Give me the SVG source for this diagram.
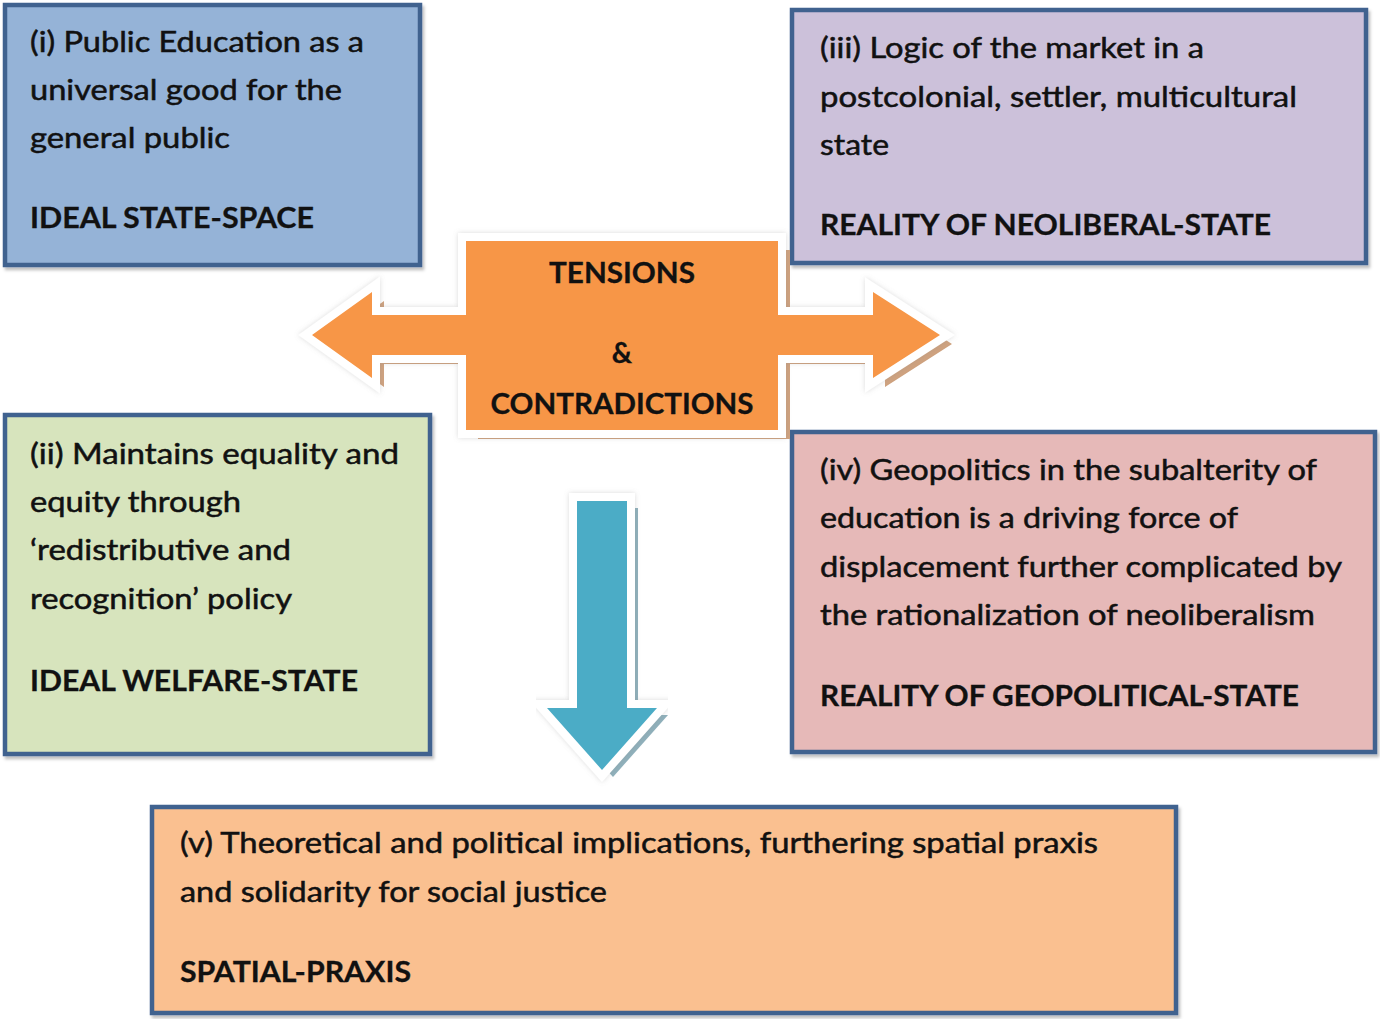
<svg xmlns="http://www.w3.org/2000/svg" width="1380" height="1019" viewBox="0 0 1380 1019">
<defs>
<style>
.box{stroke:#41628f;stroke-width:4.5}
.t{font-family:Lato,"Noto Sans","DejaVu Sans",sans-serif;font-size:28px;fill:#111;stroke:#111;stroke-width:0.5}
.b{font-weight:700;stroke-width:0.3}
</style>
<filter id="bsh" x="-5%" y="-5%" width="110%" height="110%">
<feDropShadow dx="2" dy="3" stdDeviation="1.5" flood-color="#000" flood-opacity="0.25"/>
</filter>
<filter id="glow" x="-10%" y="-10%" width="120%" height="120%">
<feDropShadow dx="0" dy="0" stdDeviation="2.5" flood-color="#888" flood-opacity="0.3"/>
</filter>
</defs>
<rect width="1380" height="1019" fill="#fff"/>

<g id="node-i">
<rect class="box" x="5" y="5" width="415" height="260" fill="#95b3d7" filter="url(#bsh)"/>
<text class="t" x="30" y="52" textLength="334" lengthAdjust="spacingAndGlyphs">(i) Public Education as a</text>
<text class="t" x="30" y="100" textLength="312" lengthAdjust="spacingAndGlyphs">universal good for the</text>
<text class="t" x="30" y="148" textLength="200" lengthAdjust="spacingAndGlyphs">general public</text>
<text class="t b" x="30" y="228" textLength="284" lengthAdjust="spacingAndGlyphs">IDEAL STATE-SPACE</text>
</g>

<g id="node-iii">
<rect class="box" x="792" y="10" width="574" height="253" fill="#ccc1da" filter="url(#bsh)"/>
<text class="t" x="820" y="58" textLength="384" lengthAdjust="spacingAndGlyphs">(iii) Logic of the market in a</text>
<text class="t" x="820" y="107" textLength="477" lengthAdjust="spacingAndGlyphs">postcolonial, settler, multicultural</text>
<text class="t" x="820" y="155" textLength="69" lengthAdjust="spacingAndGlyphs">state</text>
<text class="t b" x="820" y="235" textLength="451" lengthAdjust="spacingAndGlyphs">REALITY OF NEOLIBERAL-STATE</text>
</g>

<g id="node-ii">
<rect class="box" x="5" y="415" width="425" height="339" fill="#d7e4bd" filter="url(#bsh)"/>
<text class="t" x="30" y="464" textLength="369" lengthAdjust="spacingAndGlyphs">(ii) Maintains equality and</text>
<text class="t" x="30" y="512" textLength="211" lengthAdjust="spacingAndGlyphs">equity through</text>
<text class="t" x="30" y="560" textLength="261" lengthAdjust="spacingAndGlyphs">‘redistributive and</text>
<text class="t" x="30" y="609" textLength="262" lengthAdjust="spacingAndGlyphs">recognition’ policy</text>
<text class="t b" x="30" y="691" textLength="328" lengthAdjust="spacingAndGlyphs">IDEAL WELFARE-STATE</text>
</g>

<g id="node-iv">
<rect class="box" x="792" y="432" width="583" height="320" fill="#e6b9b8" filter="url(#bsh)"/>
<text class="t" x="820" y="480" textLength="497" lengthAdjust="spacingAndGlyphs">(iv) Geopolitics in the subalterity of</text>
<text class="t" x="820" y="528" textLength="418" lengthAdjust="spacingAndGlyphs">education is a driving force of</text>
<text class="t" x="820" y="577" textLength="522" lengthAdjust="spacingAndGlyphs">displacement further complicated by</text>
<text class="t" x="820" y="625" textLength="495" lengthAdjust="spacingAndGlyphs">the rationalization of neoliberalism</text>
<text class="t b" x="820" y="706" textLength="479" lengthAdjust="spacingAndGlyphs">REALITY OF GEOPOLITICAL-STATE</text>
</g>

<g id="node-v">
<rect class="box" x="152" y="807" width="1024" height="206" fill="#fac090" filter="url(#bsh)"/>
<text class="t" x="180" y="853" textLength="918" lengthAdjust="spacingAndGlyphs">(v) Theoretical and political implications, furthering spatial  praxis</text>
<text class="t" x="180" y="902" textLength="427" lengthAdjust="spacingAndGlyphs">and solidarity for social justice</text>
<text class="t b" x="180" y="982" textLength="231" lengthAdjust="spacingAndGlyphs">SPATIAL-PRAXIS</text>
</g>

<g id="node-tensions">
<path transform="translate(12,9)" fill="#cfa27f" d="M312,335 L372,292 L372,315 L466,315 L466,241 L778,241 L778,315 L873,315 L873,292 L940,335 L873,378 L873,355 L778,355 L778,430 L466,430 L466,355 L372,355 L372,378 Z"/>
<path filter="url(#glow)" fill="#f79646" stroke="#fff" stroke-width="16" paint-order="stroke" stroke-linejoin="miter" stroke-miterlimit="3" d="M312,335 L372,292 L372,315 L466,315 L466,241 L778,241 L778,315 L873,315 L873,292 L940,335 L873,378 L873,355 L778,355 L778,430 L466,430 L466,355 L372,355 L372,378 Z"/>
<text class="t b" x="622" y="283" text-anchor="middle" textLength="146" lengthAdjust="spacingAndGlyphs">TENSIONS</text>
<text class="t b" x="622" y="363" text-anchor="middle">&amp;</text>
<text class="t b" x="622" y="414" text-anchor="middle" textLength="263" lengthAdjust="spacingAndGlyphs">CONTRADICTIONS</text>
</g>

<g id="connectors">
<path transform="translate(11,7)" fill="#8fb0bb" d="M577,501 L627,501 L627,708 L657,708 L602,770 L547,708 L577,708 Z"/>
<path filter="url(#glow)" fill="#4bacc6" stroke="#fff" stroke-width="16" paint-order="stroke" stroke-linejoin="miter" stroke-miterlimit="3" d="M577,501 L627,501 L627,708 L657,708 L602,770 L547,708 L577,708 Z"/>
</g>
</svg>
